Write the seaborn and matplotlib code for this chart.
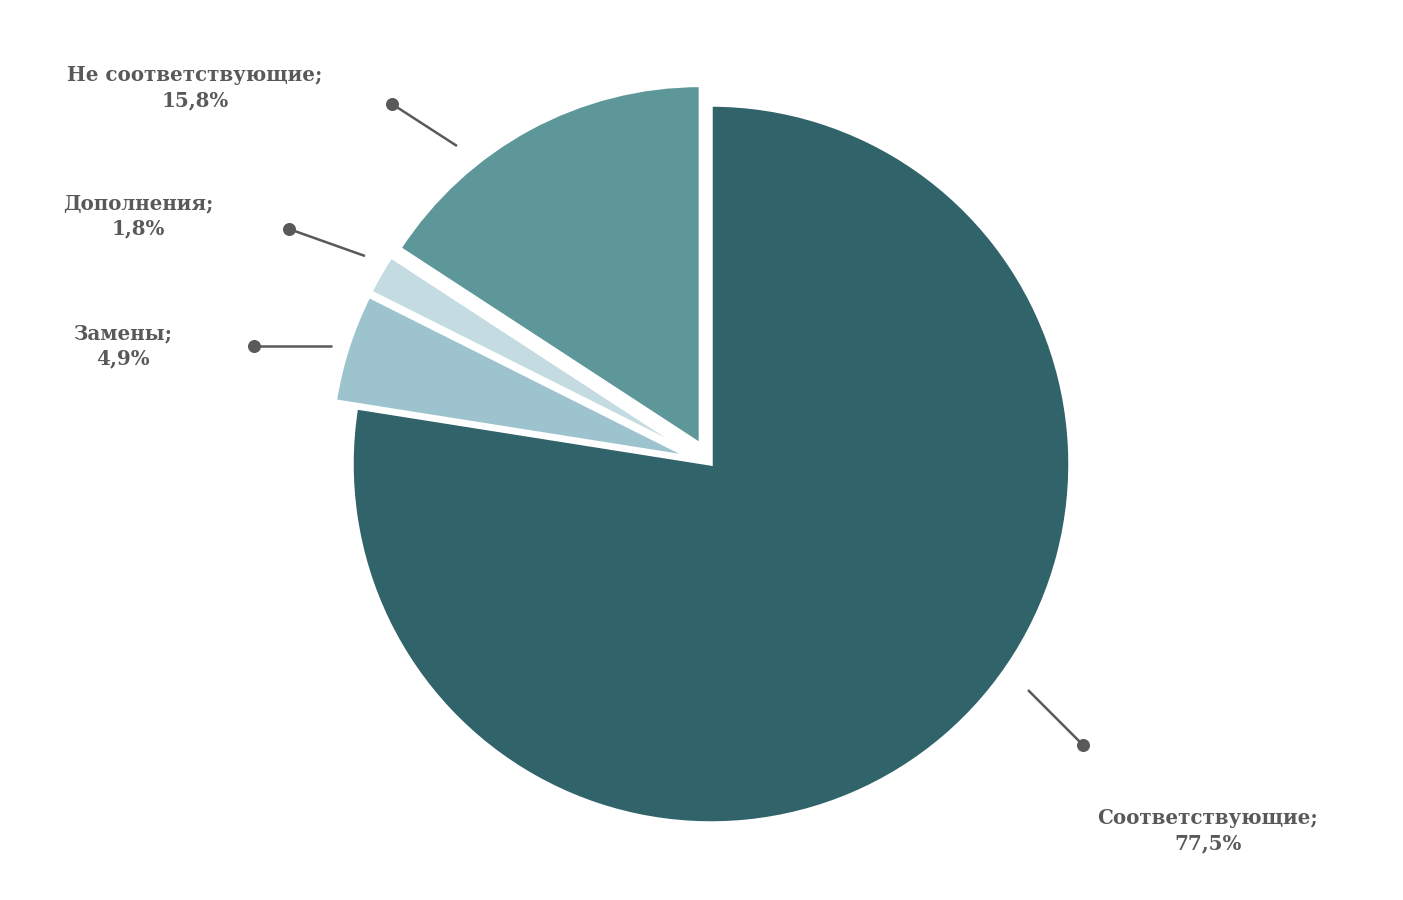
import numpy as np
import matplotlib
matplotlib.use("Agg")
from matplotlib import pyplot as plt
import seaborn as sns

# Chart data
categories = ["Соответствующие", "Замены", "Дополнения", "Не соответствующие"]
shares = [77.5, 4.9, 1.8, 15.8]
share_labels = ["77,5%", "4,9%", "1,8%", "15,8%"]

colors = ["#31636b", "#9dc4ce", "#c4dbe2", "#5e9799"]
text_color = "#595959"

sns.set_theme(style="white")
plt.rcParams["font.family"] = ["DejaVu Serif", "DejaVu Sans"]

W, H = 1403, 900
CX, CY, R = 711, 464, 359  # pie centre / radius in pixels


def px(x, y):
    """Convert pixel coords (from top-left) to data units of the pie."""
    return (x - CX) / R, (CY - y) / R


fig = plt.figure(figsize=(W / 100, H / 100), dpi=100)
ax = fig.add_axes([0, 0, 1, 1])

palette = sns.color_palette(colors)
ax.pie(shares, colors=palette, startangle=90, counterclock=False,
       explode=[0, 0.062, 0.062, 0.062],
       wedgeprops=dict(edgecolor="white", linewidth=2.5))

ax.set_xlim(px(0, 0)[0], px(W, 0)[0])
ax.set_ylim(px(0, H)[1], px(0, 0)[1])
ax.set_axis_off()

# label layout: text centre, leader line start (at pie), dot position
layout = {
    "Соответствующие": ((1208, 831), (1028, 690), (1083, 745)),
    "Замены": ((123, 346), (332, 346), (254, 346)),
    "Дополнения": ((138, 216), (365, 256), (289, 229)),
    "Не соответствующие": ((195, 88), (457, 146), (392, 104)),
}

for cat, lab in zip(categories, share_labels):
    (tx, ty), (sx, sy), (dx, dy) = layout[cat]
    ax.text(*px(tx, ty), f"{cat};\n{lab}", ha="center", va="center",
            fontsize=14.3, fontweight="bold", color=text_color,
            linespacing=1.32)
    x0, y0 = px(sx, sy)
    x1, y1 = px(dx, dy)
    ax.plot([x0, x1], [y0, y1], color=text_color, lw=1.8, solid_capstyle="butt")
    ax.scatter([x1], [y1], s=70, color=text_color, zorder=5)

fig.savefig("out.png", dpi=100, facecolor="white")
